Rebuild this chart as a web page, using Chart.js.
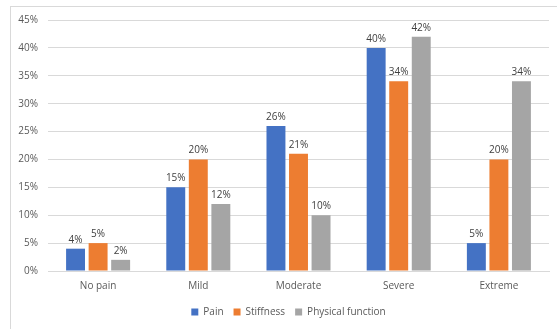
<!DOCTYPE html>
<html>
<head>
<meta charset="utf-8">
<script src="https://cdn.jsdelivr.net/npm/chart.js@4/dist/chart.umd.min.js"></script>
<style>
  html, body { margin: 0; padding: 0; background: #fff; }
  #wrap { position: relative; width: 557px; height: 329px; overflow: hidden; }
  #frame { position: absolute; left: 10px; top: 6px; width: 600px; height: 400px; border: 1px solid #d9d9d9; box-sizing: border-box; }
  canvas { position: absolute; left: 0; top: 0; }
</style>
</head>
<body>
<div id="wrap">
  <div id="frame"></div>
  <canvas id="chart" width="557" height="329"></canvas>
</div>
<script>
const categories = ['No pain', 'Mild', 'Moderate', 'Severe', 'Extreme'];
const painValues = [4, 15, 26, 40, 5];
const stiffnessValues = [5, 20, 21, 34, 20];
const physicalValues = [2, 12, 10, 42, 34];
const yTicks = [0, 5, 10, 15, 20, 25, 30, 35, 40, 45];

const fontFamily = "'Open Sans', 'Noto Sans', sans-serif";

// draws the % label on top of each bar
const barLabels = {
    id: 'barLabels',
    afterDatasetsDraw(chart) {
        const ctx = chart.ctx;
        ctx.save();
        ctx.font = '10px ' + fontFamily;
        ctx.fillStyle = '#404040';
        ctx.textAlign = 'center';
        ctx.textBaseline = 'bottom';
        chart.data.datasets.forEach((ds, i) => {
            chart.getDatasetMeta(i).data.forEach((bar, j) => {
                ctx.fillText(ds.data[j] + '%', bar.x, bar.y - 4);
            });
        });
        ctx.restore();
    }
};

// legend sits a bit right of the plot centre and lower in the original
const legendShift = {
    id: 'legendShift',
    afterLayout(chart) {
        chart.legend.left += 7;
        chart.legend.right += 7;
        chart.legend.top += 4;
        chart.legend.bottom += 4;
    }
};

const ctx = document.getElementById('chart').getContext('2d');
new Chart(ctx, {
    type: 'bar',
    data: {
        labels: categories,
        datasets: [
            { label: 'Pain', data: painValues, backgroundColor: '#4472c4' },
            { label: 'Stiffness', data: stiffnessValues, backgroundColor: '#ed7d31' },
            { label: 'Physical function', data: physicalValues, backgroundColor: '#a5a5a5' }
        ]
    },
    options: {
        responsive: false,
        animation: false,
        devicePixelRatio: 1,
        categoryPercentage: 0.675,
        barPercentage: 0.84,
        layout: { padding: { left: 14, right: 8, top: 20, bottom: 6 } },
        plugins: {
            legend: {
                position: 'bottom',
                labels: {
                    boxWidth: 7,
                    boxHeight: 7,
                    padding: 10,
                    color: '#595959',
                    font: { family: fontFamily, size: 10 }
                }
            },
            tooltip: { enabled: false }
        },
        scales: {
            x: {
                grid: { display: false },
                border: { color: '#d9d9d9' },
                ticks: { color: '#595959', padding: 1, font: { family: fontFamily, size: 10 } }
            },
            y: {
                min: 0,
                max: 45,
                afterBuildTicks: axis => { axis.ticks = yTicks.map(v => ({ value: v })); },
                afterFit: axis => { axis.width = 34; },
                grid: { color: '#d9d9d9', drawTicks: false },
                border: { display: false },
                ticks: {
                    color: '#595959',
                    padding: 10,
                    font: { family: fontFamily, size: 10 },
                    callback: v => v + '%'
                }
            }
        }
    },
    plugins: [barLabels, legendShift]
});
</script>
</body>
</html>
